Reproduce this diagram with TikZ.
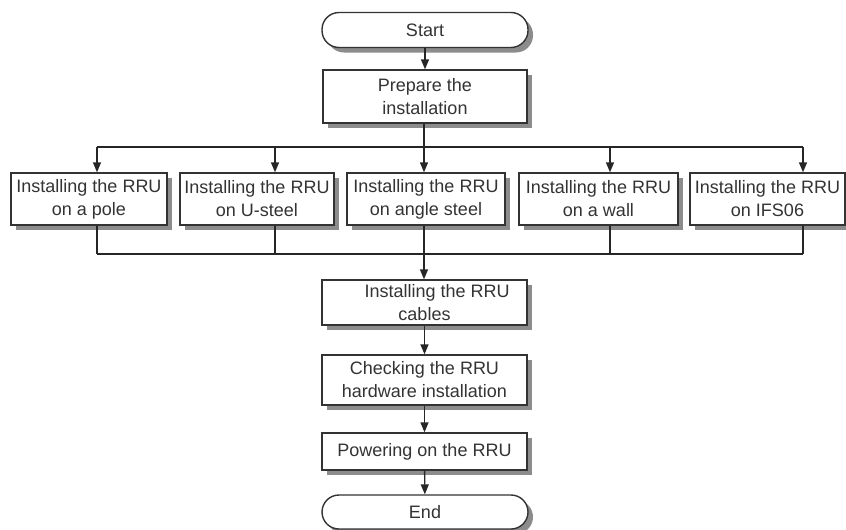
\documentclass[tikz,border=0pt]{standalone}
\usepackage{fontspec}
\setmainfont{Liberation Sans}
\usetikzlibrary{arrows.meta,shadows}

\begin{document}
\begin{tikzpicture}[x=1pt,y=-1pt,>={Triangle[width=8pt,length=10pt]},
 font=\fontsize{18}{23}\selectfont,
 box/.style={draw=black!80,line width=1.4pt,fill=white,align=center,inner sep=0pt,text=black!80,
   drop shadow={shadow xshift=5pt,shadow yshift=-5pt,fill=black!45,opacity=1}},
 term/.style={box,rounded corners=17pt},
 link/.style={line width=1.4pt,draw=black!85}]
\useasboundingbox (0,0) rectangle (846,530);
% main column
\node[term,minimum width=206pt,minimum height=35pt] (start) at (425,30) {Start};
\node[box,minimum width=204pt,minimum height=53pt] (prep) at (425,96.5) {Prepare the\\installation};
% the five ways of mounting
\node[box,minimum width=156pt,minimum height=52pt] (pole) at (89,199) {Installing the RRU\\on a pole};
\node[box,minimum width=154pt,minimum height=52pt] (usteel) at (257,199) {Installing the RRU\\on U-steel};
\node[box,minimum width=158pt,minimum height=52pt] (angle) at (426,199) {Installing the RRU\\on angle steel};
\node[box,minimum width=159pt,minimum height=52pt] (wall) at (598.5,199) {Installing the RRU\\on a wall};
\node[box,minimum width=155pt,minimum height=52pt] (ifs) at (767.5,199) {Installing the RRU\\on IFS06};
% after mounting
\node[box,minimum width=205pt,minimum height=45pt] (cables) at (424.5,302.5) {\hspace*{1.4em}Installing the RRU\\cables};
\node[box,minimum width=205pt,minimum height=50pt] (check) at (424.5,380) {Checking the RRU\\hardware installation};
\node[box,minimum width=205pt,minimum height=37pt] (power) at (424.5,451.5) {Powering on the RRU};
\node[term,minimum width=206pt,minimum height=34pt] (stop) at (425,512) {End};
% fork and join
\foreach \n/\x in {pole/97,usteel/275,angle/424,wall/610,ifs/803}{
  \coordinate (top-\n) at (\x,147);
  \coordinate (bot-\n) at (\x,254);
  \draw[link,->] (top-\n) -- (top-\n |- \n.north);
  \draw[link] (top-\n |- \n.south) -- (bot-\n);
}
\draw[link] (top-pole) -- (top-ifs);
\draw[link] (bot-pole) -- (bot-ifs);
\draw[link] (prep.south -| top-angle) -- (top-angle);
\draw[link,->] (bot-angle) -- (bot-angle |- cables.north);
\draw[link,->] (start) -- (prep);
\draw[link,->] (cables) -- (check);
\draw[link,->] (check) -- (power);
\draw[link,->] (power) -- (stop);
\end{tikzpicture}
\end{document}
